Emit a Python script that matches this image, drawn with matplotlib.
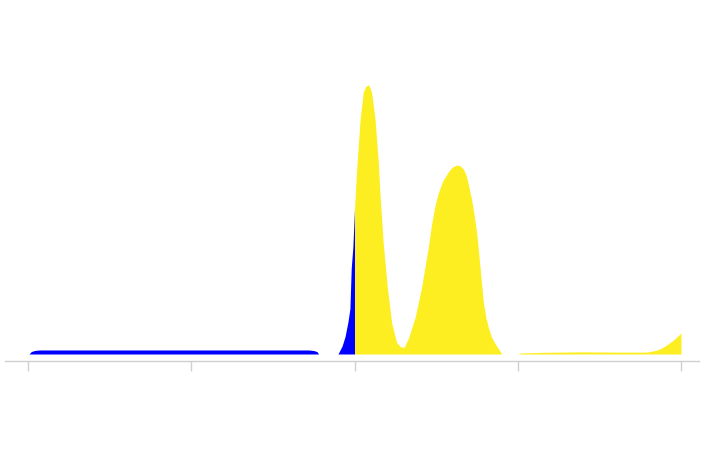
import numpy as np
import matplotlib.pyplot as plt

# blue series, two pieces
blue_x1 = [0.006, 0.02, 0.04, 0.07, 1.72, 1.75, 1.77, 1.78]
blue_y1 = [0.0, 0.9, 1.3, 1.5, 1.5, 1.3, 0.9, 0.0]
blue_x2 = [1.899, 1.924, 1.942, 1.96, 1.972, 1.98, 1.99, 2.0]
blue_y2 = [0.0, 3.0, 6.5, 12.0, 17.0, 32.0, 40.0, 54.0]

# yellow series, main peaks and the tail
yel_x1 = [2.0, 2.013, 2.034, 2.054, 2.069, 2.084, 2.095, 2.105, 2.125, 2.145, 2.156,
          2.176, 2.201, 2.228, 2.258, 2.28, 2.303, 2.330, 2.371, 2.411, 2.452, 2.47,
          2.49, 2.51, 2.54, 2.575, 2.60, 2.626, 2.648, 2.667, 2.685, 2.70, 2.718,
          2.735, 2.749, 2.769, 2.789, 2.805, 2.820, 2.840, 2.861, 2.902]
yel_y1 = [54.0, 68.6, 87.3, 97.8, 99.8, 100.5, 99.4, 97.4, 88.2, 72.3, 59.8,
          41.3, 24.9, 11.4, 4.3, 2.8, 2.4, 5.8, 13.6, 24.9, 39.8, 47.5,
          54.5, 59.5, 64.5, 68.0, 69.8, 70.5, 70.2, 69.0, 66.5, 62.5, 57.4,
          51.0, 45.0, 32.3, 19.5, 13.5, 9.9, 6.2, 3.9, 0.0]
yel_x2 = [3.0, 3.02, 3.14, 3.38, 3.63, 3.79, 3.85, 3.89, 3.95, 4.0]
yel_y2 = [0.0, 0.4, 0.6, 0.8, 0.7, 0.7, 1.4, 2.5, 5.0, 7.8]

blue = '#0000ff'
yellow = '#fdee21'

fig = plt.figure(figsize=(7.05, 4.57), dpi=100)
ax = fig.add_axes([5 / 705, (457 - 361) / 457, 694 / 705, 341 / 457])

ax.fill_between(blue_x1, blue_y1, 0, color=blue, lw=0)
ax.fill_between(blue_x2, blue_y2, 0, color=blue, lw=0)
ax.fill_between(yel_x1, yel_y1, 0, color=yellow, lw=0)
ax.fill_between(yel_x2, yel_y2, 0, color=yellow, lw=0)

ax.set_xlim((5 - 28) / 163.25, (699 - 28) / 163.25)
ax.set_ylim(-7.0 / 2.68, (354 - 20) / 2.68)

for s in ['top', 'right', 'left']:
    ax.spines[s].set_visible(False)
ax.spines['bottom'].set_color('#d0d0d0')
ax.spines['bottom'].set_linewidth(1)
ax.set_xticks([0, 1, 2, 3, 4])
ax.set_xticklabels([])
ax.tick_params(axis='x', length=7, width=1, color='#d0d0d0')
ax.set_yticks([])

fig.savefig('out.png', dpi=100)
